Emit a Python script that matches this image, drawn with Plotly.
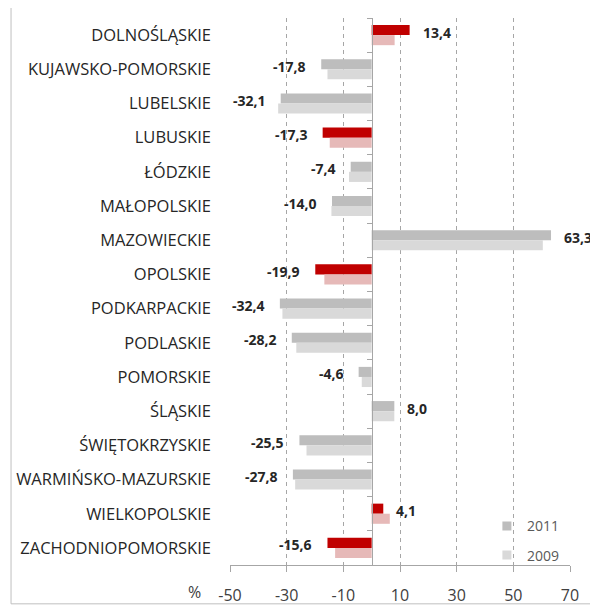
import plotly.graph_objects as go

# Regions (voivodeships), top to bottom
regions = [
    "DOLNOŚLĄSKIE", "KUJAWSKO-POMORSKIE", "LUBELSKIE", "LUBUSKIE", "ŁÓDZKIE",
    "MAŁOPOLSKIE", "MAZOWIECKIE", "OPOLSKIE", "PODKARPACKIE", "PODLASKIE",
    "POMORSKIE", "ŚLĄSKIE", "ŚWIĘTOKRZYSKIE", "WARMIŃSKO-MAZURSKIE",
    "WIELKOPOLSKIE", "ZACHODNIOPOMORSKIE",
]
v2011 = [13.4, -17.8, -32.1, -17.3, -7.4, -14.0, 63.3, -19.9, -32.4, -28.2,
         -4.6, 8.0, -25.5, -27.8, 4.1, -15.6]
v2009 = [8.1, -15.6, -33.0, -14.8, -8.0, -14.2, 60.4, -16.7, -31.5, -26.6,
         -3.5, 8.0, -23.0, -27.0, 6.4, -12.9]
highlight = {"DOLNOŚLĄSKIE", "LUBUSKIE", "OPOLSKIE", "WIELKOPOLSKIE",
             "ZACHODNIOPOMORSKIE"}
x_ticks = [-50, -30, -10, 10, 30, 50, 70]
x_range = [-50, 70]

GREY_11, GREY_09 = "#bdbdbd", "#d9d9d9"
RED_11, RED_09 = "#c00000", "#e6b9b8"
TEXT = "#262626"
FONT = "Open Sans"

c2011 = [RED_11 if r in highlight else GREY_11 for r in regions]
c2009 = [RED_09 if r in highlight else GREY_09 for r in regions]

fig = go.Figure()
fig.add_trace(go.Bar(x=v2011, y=regions, orientation="h", marker_color=c2011,
                     marker_line_width=0, showlegend=False, name="2011"))
fig.add_trace(go.Bar(x=v2009, y=regions, orientation="h", marker_color=c2009,
                     marker_line_width=0, showlegend=False, name="2009"))

# legend-only entries (bars use mixed colours)
for name, col in (("2011", GREY_11), ("2009", GREY_09)):
    fig.add_trace(go.Scatter(x=[None], y=[None], mode="markers", name=name,
                             legendgroup=name,
                             marker=dict(symbol="square", size=9, color=col)))

# invisible trace so the zero axis gets its category ticks
fig.add_trace(go.Scatter(x=[None] * len(regions), y=regions, yaxis="y2",
                         mode="markers", showlegend=False, hoverinfo="skip"))

# value labels for 2011
for r, v in zip(regions, v2011):
    fig.add_annotation(
        x=v, y=r, text=f"{v:.1f}".replace(".", ","), showarrow=False,
        xanchor="right" if v < 0 else "left", xshift=-13 if v < 0 else 11,
        yshift=3, font=dict(family=FONT, size=14, color=TEXT, weight="bold"),
    )

fig.add_annotation(x=-0.103, y=-0.049, xref="paper", yref="paper", text="%",
                   xanchor="center", yanchor="middle", showarrow=False,
                   font=dict(family=FONT, size=16, color="#404040"))

# outer chart frame (left and bottom edges)
fig.add_shape(type="line", xref="paper", yref="paper", x0=-0.644, x1=-0.644,
              y0=-0.071, y1=1.02, line=dict(color="#bfbfbf", width=1))
fig.add_shape(type="line", xref="paper", yref="paper", x0=-0.644, x1=1.09,
              y0=-0.071, y1=-0.071, line=dict(color="#bfbfbf", width=1))

zero_pos = (0 - x_range[0]) / (x_range[1] - x_range[0])
y_range = [len(regions) - 0.5, -0.5]

# the page body adds an 8px margin, so the figure is 8px smaller each way
fig.update_layout(
    width=590, height=602,
    margin=dict(l=222, r=28, t=10, b=45),
    paper_bgcolor="white", plot_bgcolor="white",
    barmode="group", bargap=0.41, bargroupgap=0,
    font=dict(family=FONT, color=TEXT),
    xaxis=dict(
        range=x_range, tickvals=x_ticks, ticktext=[str(t) for t in x_ticks],
        showgrid=True, griddash="4px,4px",
        gridcolor="#a6a6a6", gridwidth=1, zeroline=False,
        showline=True, linecolor="#a6a6a6", ticks="outside", ticklen=6,
        tickcolor="#a6a6a6", tickfont=dict(size=16, color="#404040"),
        ticklabelstandoff=10, automargin=False,
    ),
    yaxis=dict(
        categoryorder="array", categoryarray=regions, range=y_range,
        showgrid=False, showline=False, ticks="", zeroline=False,
        ticklabelstandoff=18, tickfont=dict(size=16.5, color=TEXT),
        automargin=False,
    ),
    yaxis2=dict(
        overlaying="y", matches="y", anchor="free", position=zero_pos,
        categoryorder="array", categoryarray=regions, range=y_range,
        showline=True, linecolor="#a6a6a6", linewidth=1, ticks="outside",
        ticklen=5, tickcolor="#a6a6a6", tickson="boundaries",
        showticklabels=False, showgrid=False, zeroline=False,
    ),
    legend=dict(x=0.985, y=0.1, xanchor="right", yanchor="top",
                bgcolor="rgba(0,0,0,0)", traceorder="grouped",
                tracegroupgap=8, itemwidth=30,
                font=dict(family=FONT, size=14, color="#595959")),
)

fig.write_html("out.html")
